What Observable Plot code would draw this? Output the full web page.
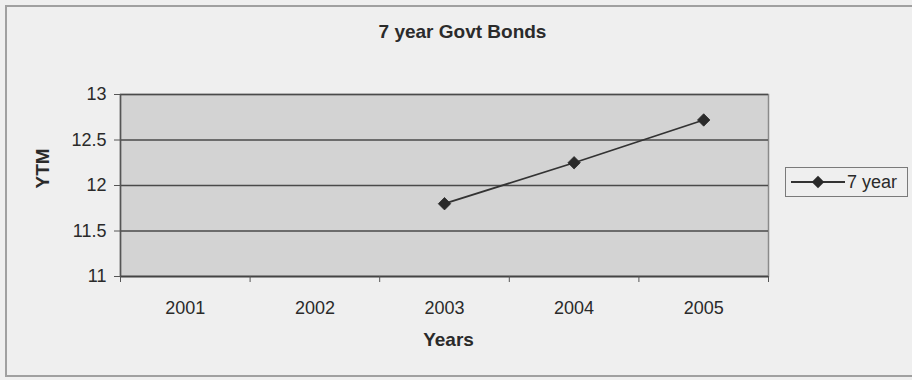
<!DOCTYPE html>
<html>
<head>
<meta charset="utf-8">
<script src="https://cdn.jsdelivr.net/npm/d3@7"></script>
<script src="https://cdn.jsdelivr.net/npm/@observablehq/plot@0.6"></script>
<style>
  html, body { margin: 0; padding: 0; background: #ececec; }
  #wrap { position: relative; width: 912px; height: 380px; overflow: hidden; background: #efefef; font-family: "Liberation Sans", Arial, sans-serif; color: #2b2b2b; }
  #border { position: absolute; left: 5px; top: 5px; width: 930px; height: 372px; border: 2px solid #a0a0a0; box-sizing: border-box; }
  #title { position: absolute; left: 0; width: 925px; top: 21px; text-align: center; font-weight: bold; font-size: 19px; }
  #legend { position: absolute; left: 785px; top: 167px; width: 123px; height: 30px; border: 1px solid #7a7a7a; box-sizing: border-box; background: #efefef; }
  #chart { position: absolute; left: 0; top: 0; }
</style>
</head>
<body>
<div id="wrap">
  <div id="border"></div>
  <div id="chart"></div>
  <div id="title"></div>
  <div id="legend"></div>
</div>
<script>
const titleText = "7 year Govt Bonds";
const xLabel = "Years";
const yLabel = "YTM";
const seriesName = "7 year";
const years = [2001, 2002, 2003, 2004, 2005];
const ytmYears = [2003, 2004, 2005];
const ytmValues = [11.8, 12.25, 12.72];
const yTicks = [11, 11.5, 12, 12.5, 13];

const data = ytmYears.map((yr, i) => ({year: yr, ytm: ytmValues[i]}));
const boundaries = [years[0] - 0.5, ...years.map(y => y + 0.5)];

document.getElementById("title").textContent = titleText;

const ink = "#2a2a2a";
const chart = Plot.plot({
  width: 912,
  height: 380,
  marginLeft: 120,
  marginRight: 144,
  marginTop: 94,
  marginBottom: 104,
  style: {background: "transparent", fontFamily: "Liberation Sans, Arial, sans-serif", color: ink},
  x: {domain: [years[0] - 0.5, years[years.length - 1] + 0.5], label: null},
  y: {domain: [yTicks[0], yTicks[yTicks.length - 1]], label: null},
  marks: [
    Plot.frame({fill: "#d3d3d3", stroke: "#8a8a8a", strokeWidth: 1.5}),
    Plot.gridY(yTicks, {stroke: "#4a4a4a", strokeOpacity: 1, strokeWidth: 1.5}),
    Plot.ruleX([boundaries[0]], {stroke: "#555", strokeWidth: 1.5}),
    Plot.ruleY([yTicks[0]], {stroke: "#444", strokeWidth: 1.7}),
    Plot.axisY({ticks: yTicks, tickSize: 6, tickPadding: 8, fontSize: 18, label: null, stroke: "#555", tickFormat: d => String(d)}),
    Plot.axisX({ticks: boundaries, tickSize: 6, tickFormat: () => "", label: null, stroke: "#555"}),
    Plot.axisX({ticks: years, tickSize: 0, tickPadding: 25, fontSize: 18, label: null, tickFormat: d => String(d)}),
    Plot.text([xLabel], {frameAnchor: "bottom", dy: 69, dx: 4, fontSize: 19, fontWeight: "bold", fill: ink}),
    Plot.text([yLabel], {frameAnchor: "left", dx: -78, dy: 3, rotate: -90, fontSize: 19, fontWeight: "bold", fill: ink}),
    Plot.line(data, {x: "year", y: "ytm", stroke: "#333", strokeWidth: 1.8}),
    Plot.dot(data, {x: "year", y: "ytm", symbol: "diamond2", r: 5.6, fill: "#2a2a2a", stroke: "#2a2a2a", strokeWidth: 0.8})
  ]
});
document.getElementById("chart").appendChild(chart);

// legend
const lg = d3.select("#legend").append("svg").attr("width", 121).attr("height", 28);
lg.append("line").attr("x1", 5).attr("x2", 59).attr("y1", 14).attr("y2", 14).attr("stroke", "#333").attr("stroke-width", 1.8);
lg.append("path").attr("d", d3.symbol(d3.symbolDiamond2, 5.6 * 5.6 * Math.PI)()).attr("transform", "translate(32,14)").attr("fill", "#2a2a2a");
lg.append("text").attr("x", 61).attr("y", 14).attr("dy", "0.35em").attr("font-size", 18).attr("fill", ink)
  .attr("font-family", "Liberation Sans, Arial, sans-serif").text(seriesName);
</script>
</body>
</html>
